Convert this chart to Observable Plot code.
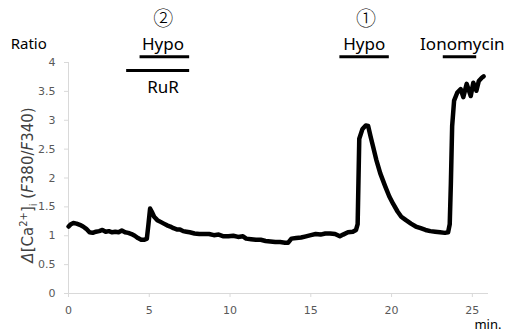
<!DOCTYPE html>
<html>
<head>
<meta charset="utf-8">
<script src="https://cdn.jsdelivr.net/npm/d3@7"></script>
<script src="https://cdn.jsdelivr.net/npm/@observablehq/plot@0.6"></script>
<style>
  html, body { margin: 0; padding: 0; background: #fff; }
  #chart svg { display: block; background: #fff; }
  g[aria-label="x-axis tick"], g[aria-label="y-axis tick"] { stroke: #d9d9d9; }
</style>
</head>
<body>
<div id="chart"></div>
<script>
// time (min) and ratio values
const time = [0,0.15,0.3,0.5,0.7,0.9,1.1,1.3,1.5,1.7,1.9,2.1,2.3,2.5,2.7,2.9,3.1,3.3,3.5,3.7,3.9,4.1,4.3,4.5,4.7,4.85,4.95,5.05,5.15,5.3,5.5,5.7,5.9,6.1,6.3,6.5,6.7,6.9,7.1,7.3,7.5,7.8,8.1,8.4,8.7,9.0,9.3,9.6,9.9,10.2,10.5,10.8,11.0,11.3,11.6,11.9,12.2,12.5,12.8,13.1,13.4,13.6,13.8,14.1,14.4,14.7,15.0,15.3,15.6,15.9,16.2,16.5,16.8,17.0,17.3,17.6,17.8,17.9,18.0,18.2,18.4,18.55,18.7,18.85,19.05,19.3,19.6,19.86,20.1,20.37,20.6,20.89,21.2,21.5,21.8,22.1,22.4,22.7,23.0,23.3,23.5,23.6,23.67,23.75,23.87,24.07,24.28,24.44,24.65,24.9,25.06,25.25,25.4,25.6,25.7];
const ratio = [1.16,1.20,1.22,1.21,1.19,1.16,1.12,1.06,1.05,1.07,1.08,1.10,1.07,1.08,1.06,1.07,1.06,1.09,1.06,1.05,1.03,1.00,0.96,0.93,0.93,0.95,1.20,1.47,1.42,1.33,1.27,1.24,1.21,1.18,1.16,1.13,1.11,1.11,1.08,1.07,1.06,1.04,1.03,1.03,1.03,1.01,1.02,0.99,0.99,1.00,0.98,0.99,0.95,0.94,0.93,0.93,0.91,0.90,0.89,0.89,0.88,0.88,0.95,0.96,0.97,0.99,1.01,1.03,1.02,1.04,1.04,1.03,0.99,1.02,1.06,1.07,1.10,1.20,2.68,2.85,2.91,2.90,2.72,2.55,2.32,2.08,1.86,1.68,1.55,1.42,1.33,1.27,1.21,1.16,1.13,1.10,1.08,1.07,1.06,1.05,1.06,1.20,1.90,2.90,3.34,3.48,3.54,3.40,3.63,3.42,3.65,3.51,3.68,3.74,3.76];

// treatment bars (start, end, level)
const barStart = [4.43, 3.6, 16.8, 23.2];
const barEnd   = [7.5, 7.5, 19.86, 25.27];
const barLevel = [4.10, 3.86, 4.10, 4.10];

// annotation labels
const circleText = ["②", "①"];
const circleX    = [5.87, 18.42];
const circleY    = [4.74, 4.74];
const labelText = ["Hypo", "RuR", "Hypo", "Ionomycin"];
const labelX    = [5.85, 5.85, 18.31, 24.38];
const labelY    = [4.31, 3.57, 4.31, 4.31];

const xTicks = [0, 5, 10, 15, 20, 25];
const yTicks = [0, 0.5, 1, 1.5, 2, 2.5, 3, 3.5, 4];

const trace = time.map((t, i) => ({t, v: ratio[i]}));
const bars = barStart.map((s, i) => ({x1: s, x2: barEnd[i], y: barLevel[i]}));
const circles = circleText.map((s, i) => ({s, x: circleX[i], y: circleY[i]}));
const labels = labelText.map((s, i) => ({s, x: labelX[i], y: labelY[i]}));

const chart = Plot.plot({
  width: 508,
  height: 333,
  marginLeft: 68,
  marginRight: 20,
  marginTop: 62,
  marginBottom: 40,
  style: {fontFamily: "DejaVu Sans, Verdana, sans-serif", fontSize: "11px", color: "#595959", overflow: "visible"},
  x: {domain: [0, 26], ticks: xTicks, label: null},
  y: {domain: [0, 4], ticks: yTicks, label: null},
  marks: [
    Plot.ruleY([0], {stroke: "#d9d9d9", strokeWidth: 1}),
    Plot.ruleX([0], {stroke: "#d9d9d9", strokeWidth: 1}),
    Plot.axisX({ticks: xTicks, tickSize: 4, tickPadding: 9, label: null, fill: "#595959", tickFormat: d => String(d)}),
    Plot.axisY({ticks: yTicks, tickSize: 4, tickPadding: 9, label: null, fill: "#595959", tickFormat: d => String(d)}),
    Plot.line(trace, {x: "t", y: "v", stroke: "black", strokeWidth: 4.5, strokeLinejoin: "round", strokeLinecap: "round", clip: false}),
    Plot.ruleY(bars, {x1: "x1", x2: "x2", y: "y", stroke: "black", strokeWidth: 3}),
    Plot.text(circles, {x: "x", y: "y", text: "s", fontSize: 20, fill: "black", fontWeight: 300, fontFamily: "Noto Sans CJK JP"}),
    Plot.text(labels, {x: "x", y: "y", text: "s", fontSize: 17, fill: "black", fontWeight: 400, fontFamily: "Noto Sans, sans-serif"}),
    Plot.text(["Ratio"], {x: -2.46, y: 4.32, text: d => d, fontSize: 15, fill: "black", fontWeight: 400, fontFamily: "Noto Sans, sans-serif"}),
    Plot.text(["min."], {x: 26.8, y: -0.54, text: d => d, textAnchor: "end", fontSize: 13, fill: "black", fontFamily: "Noto Sans, sans-serif"})
  ]
});

// rotated y-axis title with italic, superscript and subscript parts
const svg = d3.select(chart);
const title = svg.append("text")
  .attr("transform", "translate(33,185) rotate(-90)")
  .attr("text-anchor", "middle")
  .attr("font-family", "DejaVu Sans, Verdana, sans-serif")
  .attr("font-size", 15)
  .attr("fill", "#404040");
title.append("tspan").attr("font-style", "italic").text("Δ");
title.append("tspan").text("[Ca");
title.append("tspan").attr("font-size", 10).attr("dy", -6).text("2+");
title.append("tspan").attr("dy", 6).text("]");
title.append("tspan").attr("font-size", 10).attr("dy", 4).text("i");
title.append("tspan").attr("dy", -4).text(" (");
title.append("tspan").attr("font-style", "italic").text("F");
title.append("tspan").text("380/");
title.append("tspan").attr("font-style", "italic").text("F");
title.append("tspan").text("340)");

document.getElementById("chart").appendChild(chart);
</script>
</body>
</html>
